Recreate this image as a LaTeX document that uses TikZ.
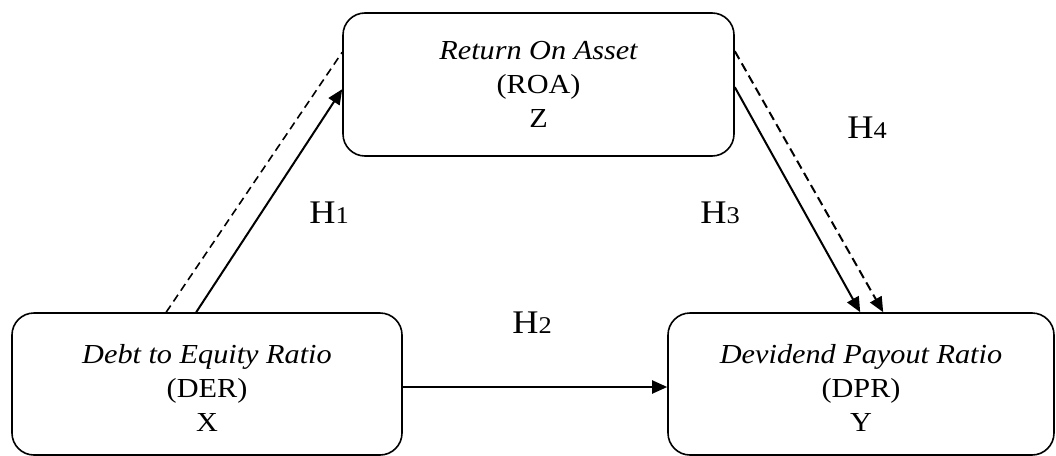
\documentclass[tikz,border=0pt]{standalone}
\usepackage{fontspec}
\setmainfont{Liberation Serif}[FakeStretch=1.1]
\usetikzlibrary{arrows.meta}
\newcommand{\hyp}[1]{{\fontsize{33}{36}\selectfont H}{\fontsize{24}{36}\selectfont #1}}
\begin{document}
\begin{tikzpicture}[x=1pt,y=-1pt,
  varbox/.style={draw,line width=1.6pt,rounded corners=22pt,inner sep=0pt},
  boxtext/.style={align=center,font=\fontsize{27.5}{34}\selectfont,inner sep=0pt},
  hlabel/.style={inner sep=0pt,anchor=base},
  solidarrow/.style={line width=2pt,-{Triangle[length=15pt,width=13pt]}},
  dasharrow/.style={line width=2pt,dash pattern=on 9pt off 5pt,-{Triangle[length=15pt,width=13pt]}},
  dashline/.style={line width=1.6pt,dash pattern=on 8pt off 5pt}]
\useasboundingbox (0,0) rectangle (1056,455);
% boxes
\node[varbox,minimum width=391pt,minimum height=143pt] (roa) at (538.5,84.5) {};
\node[varbox,minimum width=390pt,minimum height=142pt] (der) at (207,384) {};
\node[varbox,minimum width=386pt,minimum height=142pt] (dpr) at (861,384) {};
% texts
\node[boxtext] (roat) at (538.5,84) {\itshape Return On Asset\\(ROA)\\Z};
\node[boxtext] (dert) at (207,388) {\itshape Debt to Equity Ratio\\(DER)\\X};
\node[boxtext] (dprt) at (861,388) {\itshape Devidend Payout Ratio\\(DPR)\\Y};
% connectors
\draw[dashline] ([xshift=155pt]der.north west) -- ([yshift=-40pt]roa.north west);
\draw[solidarrow] ([xshift=185pt]der.north west) -- ([yshift=-77pt]roa.north west);
\draw[solidarrow] ([yshift=-75pt]roa.north east) -- ([xshift=193pt]dpr.north west);
\draw[dasharrow] ([yshift=-39pt]roa.north east) -- ([xshift=216pt]dpr.north west);
\draw[solidarrow] ([yshift=-3pt]der.east) -- ([yshift=-3pt]dpr.west);
% labels
\node[hlabel] (h1) at (329,223) {\hyp{1}};
\node[hlabel] (h2) at (532,333) {\hyp{2}};
\node[hlabel] (h3) at (720,223) {\hyp{3}};
\node[hlabel] (h4) at (867,138) {\hyp{4}};
\end{tikzpicture}
\end{document}
